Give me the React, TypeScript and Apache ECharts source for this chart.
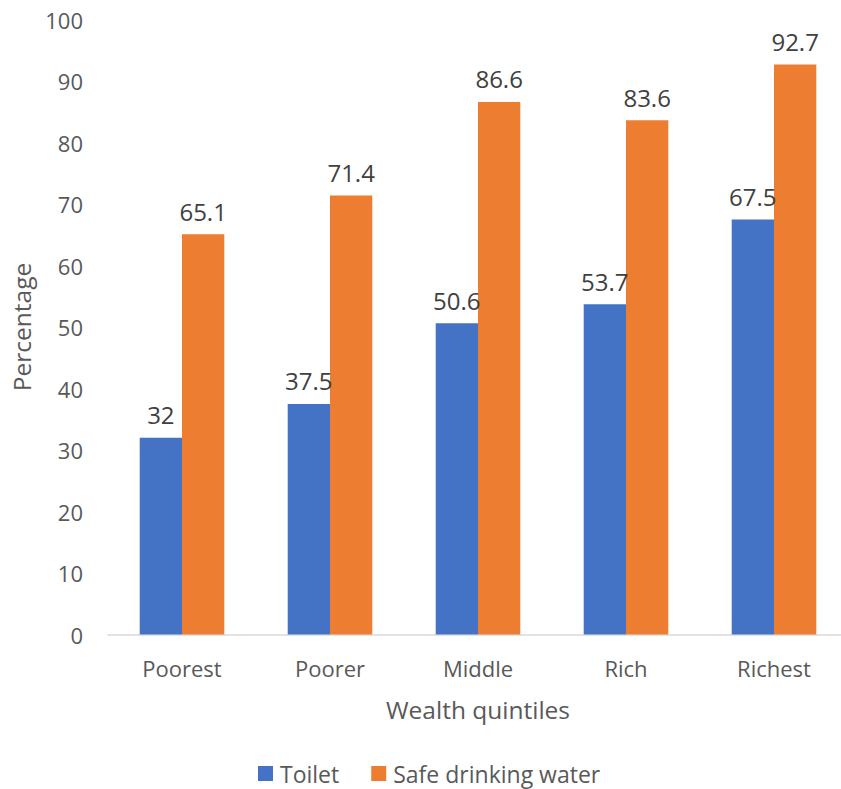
import React, { useEffect, useRef } from "react";
import * as echarts from "echarts";

const categories = ["Poorest", "Poorer", "Middle", "Rich", "Richest"];
const toilet = [32, 37.5, 50.6, 53.7, 67.5];
const safeWater = [65.1, 71.4, 86.6, 83.6, 92.7];
const seriesNames = ["Toilet", "Safe drinking water"];
const yTicks = { min: 0, max: 100, interval: 10 };

const FONT = "'Open Sans', sans-serif";

export default function App() {
  const ref = useRef<HTMLDivElement>(null);
  useEffect(() => {
    if (!ref.current) return;
    const chart = echarts.init(ref.current, null, { renderer: "svg" });
    const labelStyle = {
      show: true,
      position: "top" as const,
      distance: 11,
      color: "#404040",
      fontFamily: FONT,
      fontSize: 24,
    };
    chart.setOption({
      animation: false,
      backgroundColor: "#ffffff",
      textStyle: { fontFamily: FONT },
      grid: { left: 108, top: 19.5, width: 740, height: 615 },
      legend: {
        left: 258,
        top: 762,
        padding: 0,
        itemWidth: 15,
        itemHeight: 15,
        itemGap: 32,
        icon: "rect",
        textStyle: {
          color: "#595959",
          fontSize: 23,
          lineHeight: 20,
          fontFamily: FONT,
          padding: [0, 0, 0, 2],
        },
        data: seriesNames,
      },
      xAxis: {
        type: "category",
        data: categories,
        name: "Wealth quintiles",
        nameLocation: "middle",
        nameGap: 62,
        nameTextStyle: { color: "#595959", fontSize: 24.5, fontFamily: FONT },
        axisLine: { show: true, lineStyle: { color: "#d9d9d9", width: 1.5 } },
        axisTick: { show: false },
        axisLabel: { color: "#595959", fontSize: 22, fontFamily: FONT, margin: 22 },
      },
      yAxis: {
        type: "value",
        min: yTicks.min,
        max: yTicks.max,
        interval: yTicks.interval,
        name: "Percentage",
        nameLocation: "middle",
        nameGap: 73,
        nameTextStyle: { color: "#595959", fontSize: 24.5, fontFamily: FONT },
        axisLine: { show: false },
        axisTick: { show: false },
        splitLine: { show: false },
        axisLabel: { color: "#595959", fontSize: 22, fontFamily: FONT, margin: 25 },
      },
      series: [
        {
          name: seriesNames[0],
          type: "bar",
          data: toilet,
          barWidth: 42.3,
          barGap: "0%",
          itemStyle: { color: "#4472C4" },
          label: labelStyle,
        },
        {
          name: seriesNames[1],
          type: "bar",
          data: safeWater,
          barWidth: 42.3,
          barGap: "0%",
          itemStyle: { color: "#ED7D31" },
          label: labelStyle,
        },
      ],
    });
    return () => chart.dispose();
  }, []);
  return (
    <div
      style={{ position: "absolute", left: 0, top: 0, width: 841, height: 789, overflow: "hidden" }}
    >
      <div ref={ref} style={{ width: 860, height: 789 }} />
    </div>
  );
}
